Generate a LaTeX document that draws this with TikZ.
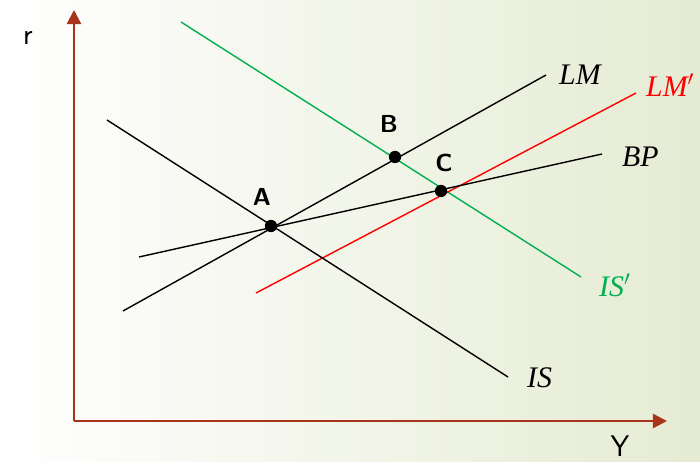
\documentclass[tikz,border=0pt]{standalone}
\usepackage{fontspec}
\usepackage{tikz}
\usetikzlibrary{arrows.meta, positioning, calc}

\newfontfamily\crvfont{Liberation Serif}

\definecolor{axisred}{RGB}{168,52,28}
\definecolor{isgreen}{RGB}{0,176,80}
\definecolor{bgright}{RGB}{229,235,211}

\begin{document}
\begin{tikzpicture}[x=0.02cm, y=-0.02cm, >=latex,
    curve/.style={line width=0.8pt},
    axis/.style={draw=axisred, line width=1.4pt, -{Triangle[length=8pt,width=8pt]}},
    pt/.style={circle, fill=black, inner sep=0pt, minimum size=7pt},
    ptlabel/.style={font=\sffamily\bfseries\fontsize{14}{16}\selectfont},
    crvlabel/.style={font=\crvfont\itshape\fontsize{17}{20}\selectfont, anchor=west},
    axlabel/.style={font=\sffamily\fontsize{17}{20}\selectfont}]
    % background
    \shade [left color=white, right color=bgright] (0,0) rectangle (700,462);
    \useasboundingbox (0,0) rectangle (700,462);

    % axes
    \coordinate (origin) at (74,421);
    \coordinate (ytip) at (74,10);
    \coordinate (xtip) at (667,421);
    \draw [axis] (origin) -- (ytip);
    \draw [axis] (origin) -- (xtip);
    \node [axlabel] (rlab) at (28,38) {r};
    \node [axlabel, inner sep=1pt] (ylab) at (620,446) {Y};

    % curve end points
    \coordinate (is1) at (107,120);  \coordinate (is2) at (508,377);
    \coordinate (lm1) at (123,311);  \coordinate (lm2) at (546,75);
    \coordinate (bp1) at (139,257);  \coordinate (bp2) at (602,154);
    \coordinate (lmp1) at (256,293); \coordinate (lmp2) at (636,93);
    \coordinate (isp1) at (181,22);  \coordinate (isp2) at (581,277);

    \draw [curve, isgreen] (isp1) -- (isp2);
    \draw [curve, red] (lmp1) -- (lmp2);
    \draw [curve] (is1) -- (is2);
    \draw [curve] (lm1) -- (lm2);
    \draw [curve] (bp1) -- (bp2);

    % curve labels
    \node [crvlabel] (lmlab) at (553,75) {LM};
    \node [crvlabel, text=red] (lmplab) at (640,85) {LM$'$};
    \node [crvlabel] (bplab) at (616,157) {BP};
    \node [crvlabel, text=isgreen] (isplab) at (593,285) {IS$'$};
    \node [crvlabel] (islab) at (521,378) {IS};

    % equilibria
    \node [pt] (A) at (271,226) {};
    \node [pt] (B) at (395,157) {};
    \node [pt] (C) at (441,191) {};
    \node [ptlabel] (Alab) at (262,197) {A};
    \node [ptlabel] (Blab) at (389,124) {B};
    \node [ptlabel] (Clab) at (444,163) {C};
\end{tikzpicture}
\end{document}
